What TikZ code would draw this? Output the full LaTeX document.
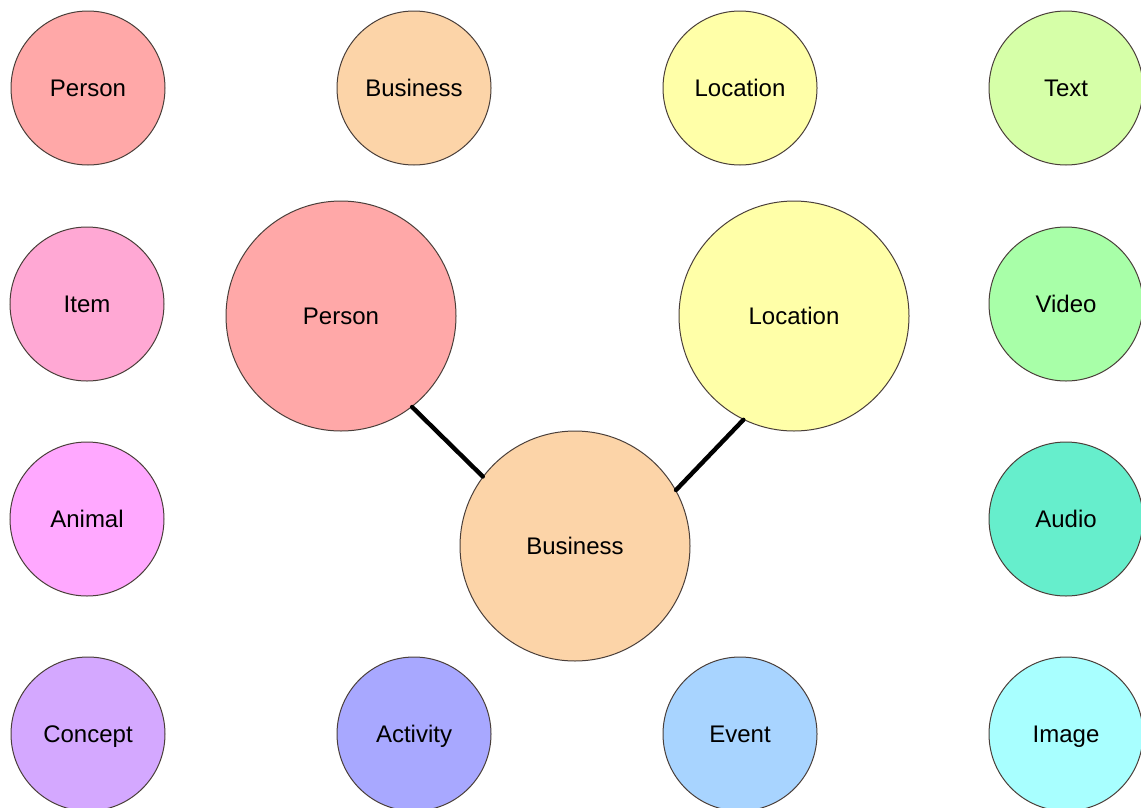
\documentclass[tikz,border=0pt]{standalone}
\usepackage{fontspec}
\setmainfont{Liberation Sans}
\definecolor{cPerson}{HTML}{FFA8A8}
\definecolor{cBusiness}{HTML}{FCD4A8}
\definecolor{cLocation}{HTML}{FFFFA8}
\definecolor{cText}{HTML}{D6FFA8}
\definecolor{cItem}{HTML}{FFA8D4}
\definecolor{cVideo}{HTML}{A8FFA8}
\definecolor{cAnimal}{HTML}{FFA8FF}
\definecolor{cAudio}{HTML}{66EECC}
\definecolor{cConcept}{HTML}{D4A8FF}
\definecolor{cActivity}{HTML}{A8A8FF}
\definecolor{cEvent}{HTML}{A8D4FF}
\definecolor{cImage}{HTML}{A8FFFF}
\definecolor{rim}{HTML}{4A3F3A}
\tikzset{
  ball/.style={circle, draw=rim, line width=0.75pt, inner sep=0pt,
    text height=12.9pt, text depth=0pt, font=\fontsize{18}{20}\selectfont},
  small/.style={ball, minimum size=115.5pt},
  big/.style={ball, minimum size=172.5pt},
  link/.style={line width=3.3pt, draw=black, line cap=round}
}
\begin{document}
\begin{tikzpicture}[x=0.75pt, y=-0.75pt]
\useasboundingbox (0,0) rectangle (1141,807);
\fill[white] (0,0) rectangle (1141,807);
% small circles
\node[small, fill=cPerson]   (sPerson)   at (88,88)   {Person};
\node[small, fill=cBusiness] (sBusiness) at (414,88)  {Business};
\node[small, fill=cLocation] (sLocation) at (740,88)  {Location};
\node[small, fill=cText]     (sText)     at (1066,88) {Text};
\node[small, fill=cItem]     (sItem)     at (87,304)  {Item};
\node[small, fill=cVideo]    (sVideo)    at (1066,304) {Video};
\node[small, fill=cAnimal]   (sAnimal)   at (87,519)  {Animal};
\node[small, fill=cAudio]    (sAudio)    at (1066,519) {Audio};
\node[small, fill=cConcept]  (sConcept)  at (88,734)  {Concept};
\node[small, fill=cActivity] (sActivity) at (414,734) {Activity};
\node[small, fill=cEvent]    (sEvent)    at (740,734) {Event};
\node[small, fill=cImage]    (sImage)    at (1066,734) {Image};
% big circles
\node[big, fill=cPerson]   (bPerson)   at (341,316) {Person};
\node[big, fill=cLocation] (bLocation) at (794,316) {Location};
\node[big, fill=cBusiness] (bBusiness) at (575,546) {Business};
% connectors
\draw[link] (bPerson.-52) -- (bBusiness.143);
\draw[link] (bLocation.-116) -- (bBusiness.29);
\end{tikzpicture}
\end{document}
